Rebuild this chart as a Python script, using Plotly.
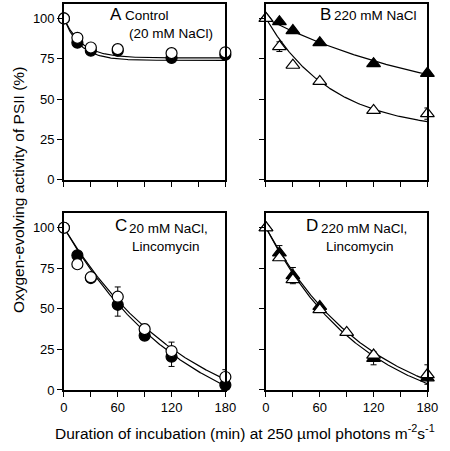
import numpy as np
import plotly.graph_objects as go

W, H = 450, 451

# ---------------- data ----------------
t_ab = [0, 15, 30, 60, 120, 180]
t_cd = [0, 15, 30, 60, 90, 120, 180]

a_open = [100, 88, 82, 81, 78.5, 79]
a_filled = [100, 85, 80, 80, 75.5, 77.5]

b_open = [100, 82.5, 71, 61, 43, 41]
b_open_err = [0, 3, 0, 0, 0, 3.5]
b_filled = [100, 98, 92.5, 85, 72, 66]

c_open = [100, 77.5, 69.5, 57.5, 37.5, 24, 8]
c_open_err = [0, 0, 0, 6, 3, 5.5, 4.5]
c_filled = [100, 83, 69, 52.5, 33.5, 20.5, 3]
c_filled_err = [0, 0, 0, 7, 0, 6, 0]

d_open = [100, 81.5, 68, 49.5, 35.5, 21.5, 9.5]
d_open_err = [0, 0, 0, 0, 0, 0, 6]
d_filled = [100, 84.5, 70.5, 51.5, None, 19.5, 7.5]
d_filled_err = [0, 4.5, 5, 0, 0, 4, 0]

# fitted decay curves: y = plateau + (100 - plateau) * exp(-rate * t)
a_fit_plateau = [75.5, 74.0]
a_fit_rate = [0.05, 0.055]
b_fit_plateau = [40.0, 30.0]
b_fit_rate = [0.0048, 0.0136]
c_fit_plateau = [-30.0, -35.0]
c_fit_rate = [0.00708, 0.00713]
d_fit_plateau = [-20.0, -20.0]
d_fit_rate = [0.00851, 0.00898]

x_tickvals = [0, 60, 120, 180]
x_minor_tickvals = [30, 90, 150]
y_tickvals = [0, 25, 50, 75, 100]

# ---------------- figure ----------------
FONT = "Arial, Liberation Sans, Helvetica, sans-serif"
fig = go.Figure()

panels = {
    "A": dict(xa="x", ya="y", xdom=(62, 229), ydom=(4, 183)),
    "B": dict(xa="x2", ya="y2", xdom=(271, 438), ydom=(4, 183)),
    "C": dict(xa="x3", ya="y3", xdom=(62, 229), ydom=(217, 397)),
    "D": dict(xa="x4", ya="y4", xdom=(271, 438), ydom=(217, 397)),
}

tfine = np.linspace(0, 180, 200)


def add_curves(p, plateaus, rates):
    for pl, k in zip(plateaus, rates):
        y = pl + (100 - pl) * np.exp(-k * tfine)
        fig.add_trace(go.Scatter(x=tfine, y=y, mode="lines",
                                 line=dict(color="black", width=1.2),
                                 xaxis=panels[p]["xa"], yaxis=panels[p]["ya"],
                                 showlegend=False, hoverinfo="skip"))


def add_pts(p, x, y, symbol, fill, err=None, size=10):
    kw = {}
    if err is not None:
        kw["error_y"] = dict(type="data", array=err, visible=True,
                             color="black", thickness=1, width=3)
    fig.add_trace(go.Scatter(x=x, y=y, mode="markers",
                             marker=dict(symbol=symbol, size=size, color=fill,
                                         line=dict(color="black", width=1.2)),
                             xaxis=panels[p]["xa"], yaxis=panels[p]["ya"],
                             cliponaxis=False, showlegend=False, **kw))


add_curves("A", a_fit_plateau, a_fit_rate)
add_pts("A", t_ab, a_filled, "circle", "black", size=11)
add_pts("A", t_ab, a_open, "circle", "white", size=11)

add_curves("B", b_fit_plateau, b_fit_rate)
add_pts("B", t_ab, b_filled, "triangle-up", "black", size=12)
add_pts("B", t_ab, b_open, "triangle-up", "white", b_open_err, size=12)

add_curves("C", c_fit_plateau, c_fit_rate)
add_pts("C", t_cd, c_filled, "circle", "black", c_filled_err, size=11)
add_pts("C", t_cd, c_open, "circle", "white", c_open_err, size=11)

add_curves("D", d_fit_plateau, d_fit_rate)
add_pts("D", t_cd, d_filled, "triangle-up", "black", d_filled_err, size=12)
add_pts("D", t_cd, d_open, "triangle-up", "white", d_open_err, size=12)

layout = dict(width=W, height=H, margin=dict(l=0, r=0, t=0, b=0),
              paper_bgcolor="white", plot_bgcolor="white",
              font=dict(family=FONT, size=13, color="black"))

for name, pinfo in panels.items():
    xk = "xaxis" + pinfo["xa"][1:]
    yk = "yaxis" + pinfo["ya"][1:]
    bottom = name in ("C", "D")
    left = name in ("A", "C")
    layout[xk] = dict(domain=[pinfo["xdom"][0] / W, pinfo["xdom"][1] / W],
                      range=[0, 180], anchor=pinfo["ya"],
                      tickmode="array", tickvals=x_tickvals,
                      showticklabels=bottom,
                      ticks="outside", ticklen=5, tickwidth=1.2, tickcolor="black",
                      minor=dict(tickmode="array", tickvals=x_minor_tickvals,
                                 ticks="outside", ticklen=5, tickwidth=1.2,
                                 tickcolor="black", showgrid=False),
                      showline=True, linecolor="black", linewidth=1.5, mirror=True,
                      showgrid=False, zeroline=False, ticklabeloverflow="allow",
                      tickfont=dict(size=13, family=FONT))
    layout[yk] = dict(domain=[1 - pinfo["ydom"][1] / H, 1 - pinfo["ydom"][0] / H],
                      range=[0, 109], anchor=pinfo["xa"],
                      tickmode="array", tickvals=y_tickvals,
                      showticklabels=left,
                      ticks="outside", ticklen=5, tickwidth=1.2, tickcolor="black",
                      showline=True, linecolor="black", linewidth=1.5, mirror=True,
                      showgrid=False, zeroline=False,
                      tickfont=dict(size=13, family=FONT))

fig.update_layout(**layout)


def ann(px, py, text, size, xanchor="left"):
    fig.add_annotation(x=px / W, y=1 - py / H, xref="paper", yref="paper",
                       text=text, showarrow=False, xanchor=xanchor, yanchor="middle",
                       borderpad=0, font=dict(size=size, family=FONT, color="black"))


ann(109, 15, "A", 17)
ann(124, 16, "Control", 13.5)
ann(128, 34, "(20 mM NaCl)", 13.5)
ann(326, 15, "B", 17)
ann(340, 16, "220 mM NaCl", 13.5)
ann(114, 230, "C", 17)
ann(128, 233, "20 mM NaCl,", 13.5)
ann(131, 251, "Lincomycin", 13.5)
ann(311, 230, "D", 17)
ann(327, 233, "220 mM NaCl,", 13.5)
ann(332, 251, "Lincomycin", 13.5)

fig.add_annotation(x=15 / W, y=1 - 194 / H, xref="paper", yref="paper",
                   text="Oxygen-evolving activity of PSII (%)", textangle=-90,
                   showarrow=False, xanchor="center", yanchor="middle",
                   font=dict(size=15.5, family=FONT, color="black"))
fig.add_annotation(x=249 / W, y=1 - 440 / H, xref="paper", yref="paper",
                   text="Duration of incubation (min) at 250 µmol photons m<sup>-2</sup>s<sup>-1</sup>",
                   showarrow=False, xanchor="center", yanchor="middle",
                   font=dict(size=15.5, family=FONT, color="black"))

fig.write_html("out.html", config={"displayModeBar": False})

# remove default page margins so the figure sits at the window origin
with open("out.html", "r", encoding="utf-8") as f:
    html = f.read()
html = html.replace("<head>", "<head><style>html,body{margin:0;padding:0;overflow:hidden;}</style>", 1)
with open("out.html", "w", encoding="utf-8") as f:
    f.write(html)
